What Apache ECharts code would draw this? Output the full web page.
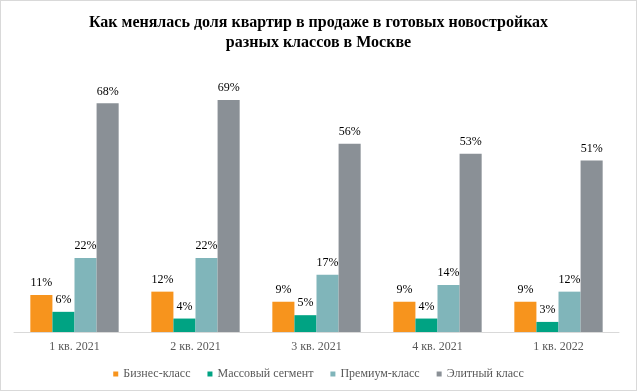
<!DOCTYPE html>
<html><head><meta charset="utf-8">
<script src="https://cdn.jsdelivr.net/npm/echarts@6/dist/echarts.min.js"></script>
<style>html,body{margin:0;padding:0;background:#fff}#c{width:635px;height:389px;border:1px solid #d9d9d9}</style>
</head><body><div id="c"></div>
<script>
const categories = ['1 кв. 2021','2 кв. 2021','3 кв. 2021','4 кв. 2021','1 кв. 2022'];
const seriesNames = ['Бизнес-класс','Массовый сегмент','Премиум-класс','Элитный класс'];
const business = [11,12,9,9,9];
const mass = [6,4,5,4,3];
const premium = [22,22,17,14,12];
const elite = [68,69,56,53,51];
const colors = ['#F7941D','#00A383','#80B5BA','#8A9096'];
const font = '"Liberation Serif","Times New Roman",serif';
const chart = echarts.init(document.getElementById('c'));
const data = [business, mass, premium, elite];
chart.setOption({
  animation:false,
  title:{text:'Как менялась доля квартир в продаже в готовых новостройках\nразных классов в Москве',left:'center',top:7,
    textStyle:{fontFamily:font,fontSize:16,fontWeight:'bold',color:'#000',lineHeight:20}},
  legend:{top:362,left:'center',itemWidth:5,itemHeight:5,itemGap:17,icon:'rect',
    textStyle:{fontFamily:font,fontSize:12,color:'#595959'}},
  grid:{left:13,right:17,top:62,bottom:58},
  xAxis:{type:'category',data:categories,axisTick:{show:false},
    axisLine:{lineStyle:{color:'#d9d9d9'}},
    axisLabel:{fontFamily:font,fontSize:12,color:'#595959',margin:9}},
  yAxis:{type:'value',min:0,max:80,show:false,splitLine:{show:false}},
  series:data.map((d,i)=>({name:seriesNames[i],type:'bar',data:d,barGap:'0%',barCategoryGap:'27%',
    itemStyle:{color:colors[i]},
    label:{show:true,position:'top',formatter:'{c}%',fontFamily:font,fontSize:12,color:'#000',distance:6}}))
});
</script></body></html>
